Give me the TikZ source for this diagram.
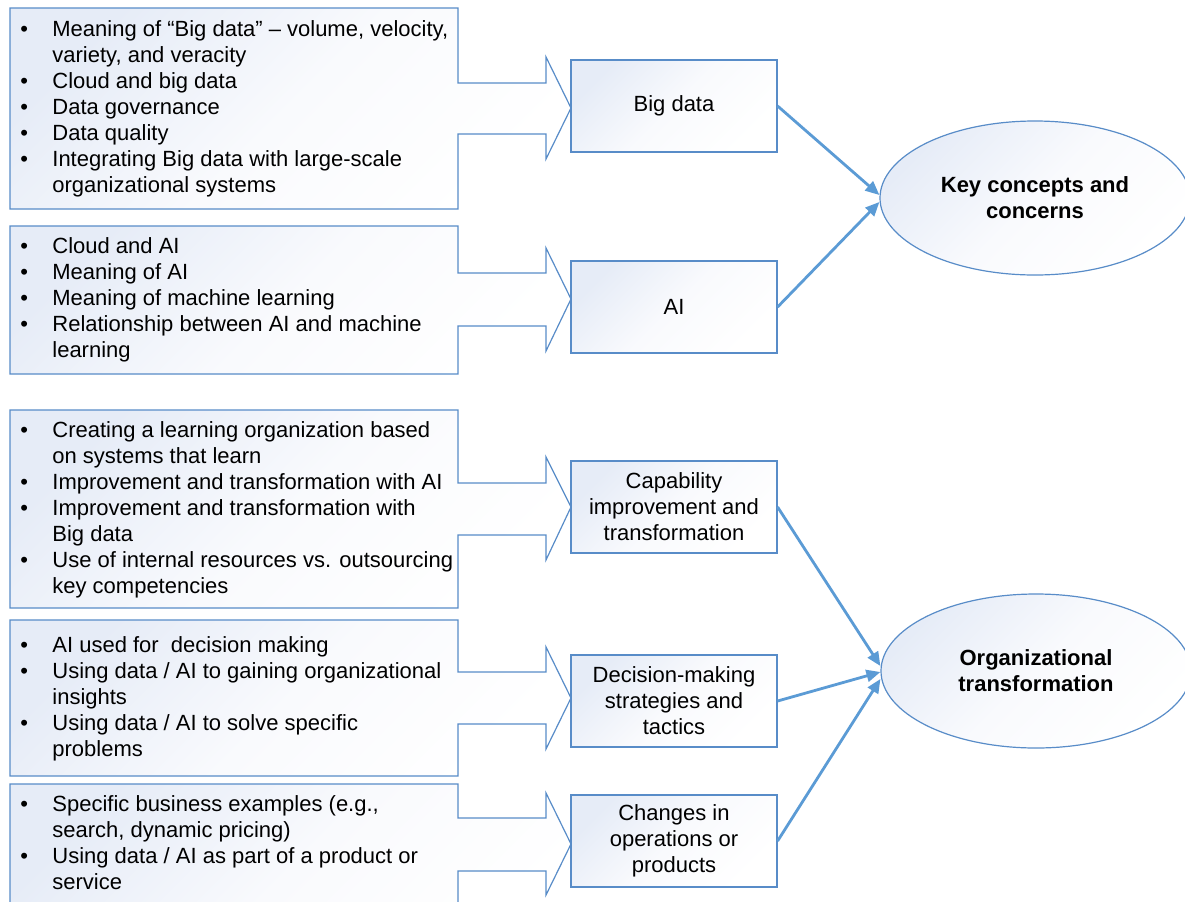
\documentclass[tikz,border=0pt]{standalone}
\usepackage{fontspec}
\setmainfont{Liberation Sans}
\usetikzlibrary{shapes.geometric,arrows.meta}
\definecolor{edgec}{RGB}{88,140,200}
\definecolor{arrowc}{RGB}{91,155,213}
\definecolor{fillc}{RGB}{230,236,247}
\definecolor{fillm}{RGB}{249,250,253}
\tikzset{
  shapebox/.style={draw=edgec, line width=0.6pt, top color=fillc, bottom color=white, middle color=fillm, shading angle=45},
  rbox/.style={shapebox, minimum width=103pt, minimum height=46pt, inner sep=0pt, align=center, font=\fontsize{11}{13}\selectfont},
  ell/.style={shapebox, ellipse, minimum width=155pt, minimum height=77pt, inner sep=0pt, align=center, font=\fontsize{11}{13}\selectfont\bfseries},
  listtext/.style={anchor=base west, inner sep=0pt, font=\fontsize{11}{13}\selectfont},
  conn/.style={draw=arrowc, line width=1.4pt, -{Triangle[length=7pt,width=6pt]}},
}
\newcommand\mycallout[7]{%
  \path[shapebox] (10,#1) -- (458,#1) -- (458,#3) -- (546,#3) -- (546,#5) -- (571,#7) -- (546,#6) -- (546,#4) -- (458,#4) -- (458,#2) -- (10,#2) -- cycle;}
\newcommand\bl{\hspace*{1pt}\textbullet}
\begin{document}
\begin{tikzpicture}[x=0.5pt,y=-0.5pt]
\useasboundingbox (0,0) rectangle (1185,901);
\fill[white] (0,0) rectangle (1185,901);
\clip (0,0) rectangle (1185,901);

% callout shapes
\mycallout{8}{209}{83}{134}{57}{159}{108}
\mycallout{226}{374}{273}{326}{248}{351}{299}
\mycallout{410}{608}{483}{535}{457}{560}{507}
\mycallout{620}{776}{672}{724}{647}{749}{698}
\mycallout{784}{960}{818}{871}{793}{895}{844}

% list texts
\node[listtext] (l1) at (18,36) {\begin{tabular}[t]{@{}p{17pt}@{}l@{}}
\bl & Meaning of “Big data” – volume, velocity,\\
 & variety, and veracity\\
\bl & Cloud and big data\\
\bl & Data governance\\
\bl & Data quality\\
\bl & Integrating Big data with large-scale\\
 & organizational systems
\end{tabular}};
\node[listtext] (l2) at (18,253) {\begin{tabular}[t]{@{}p{17pt}@{}l@{}}
\bl & Cloud and AI\\
\bl & Meaning of AI\\
\bl & Meaning of machine learning\\
\bl & Relationship between AI and machine\\
 & learning
\end{tabular}};
\node[listtext] (l3) at (18,437) {\begin{tabular}[t]{@{}p{17pt}@{}l@{}}
\bl & Creating a learning organization based\\
 & on systems that learn\\
\bl & Improvement and transformation with AI\\
\bl & Improvement and transformation with\\
 & Big data\\
\bl & Use of internal resources vs. outsourcing\\
 & key competencies
\end{tabular}};
\node[listtext] (l4) at (18,652) {\begin{tabular}[t]{@{}p{17pt}@{}l@{}}
\bl & AI used for \ decision making\\
\bl & Using data / AI to gaining organizational\\
 & insights\\
\bl & Using data / AI to solve specific\\
 & problems
\end{tabular}};
\node[listtext] (l5) at (18,811) {\begin{tabular}[t]{@{}p{17pt}@{}l@{}}
\bl & Specific business examples (e.g.,\\
 & search, dynamic pricing)\\
\bl & Using data / AI as part of a product or\\
 & service
\end{tabular}};

% right boxes
\node[rbox] (bd) at (674,106) {Big data};
\node[rbox] (ai) at (674,307) {AI};
\node[rbox] (cap) at (674,507) {Capability\\improvement and\\transformation};
\node[rbox] (dec) at (674,701) {Decision-making\\strategies and\\tactics};
\node[rbox] (chg) at (674,841) {Changes in\\operations or\\products};

% ellipses
\node[ell] (kc) at (1035,198) {Key concepts and\\concerns};
\node[ell] (ot) at (1036,671) {Organizational\\transformation};

% connectors
\draw[conn] (bd.east) -- ([yshift=1.5pt]kc.west);
\draw[conn] (ai.east) -- ([yshift=-2pt]kc.west);
\draw[conn] (cap.east) -- ([yshift=2.5pt]ot.west);
\draw[conn] (dec.east) -- ([yshift=-0.5pt]ot.west);
\draw[conn] (chg.east) -- ([yshift=-4pt]ot.west);
\end{tikzpicture}
\end{document}
